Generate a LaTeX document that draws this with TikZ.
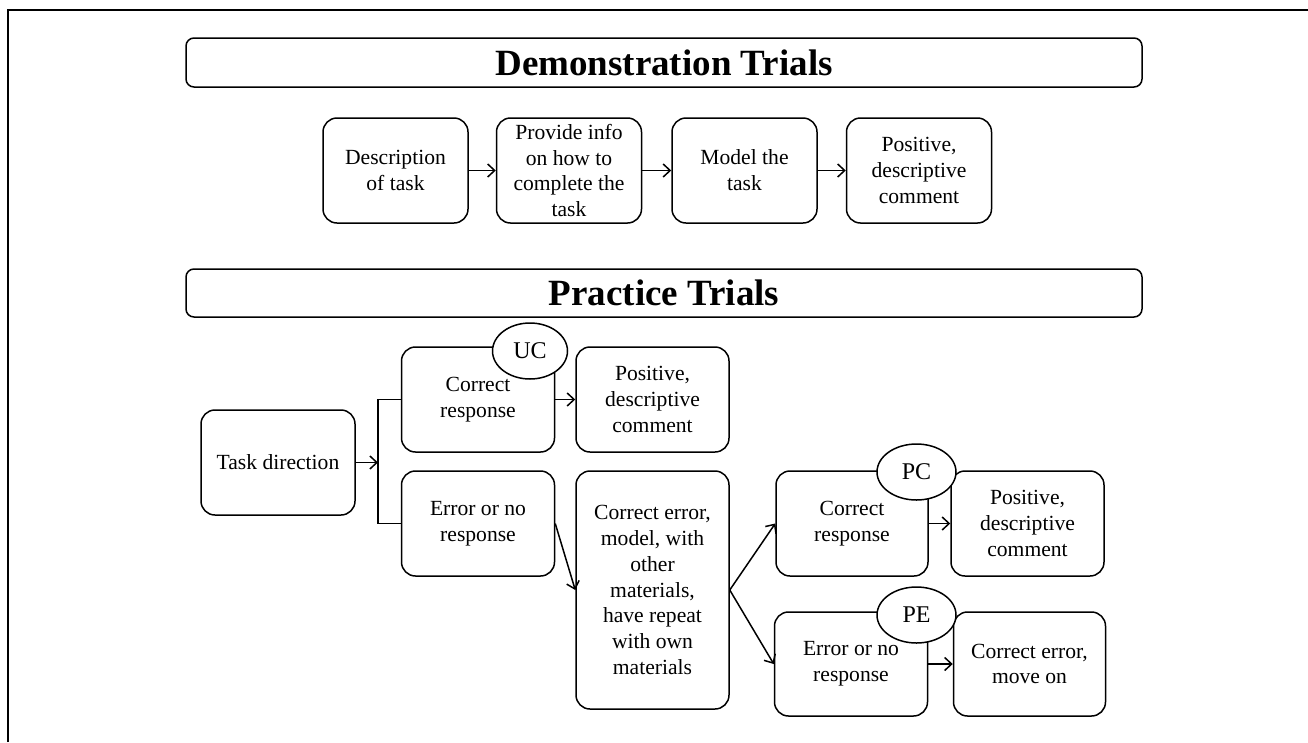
\documentclass[tikz,border=0pt]{standalone}
\usepackage{fontspec}
\setmainfont{Liberation Serif}
\usetikzlibrary{arrows.meta,shapes.geometric}
\tikzset{
  box/.style={draw, line width=1.5pt, rounded corners=14pt, align=center,
    inner sep=0pt, font=\fontsize{21.6}{25.8}\selectfont},
  titlebox/.style={draw, line width=1.5pt, rounded corners=8pt, inner sep=0pt,
    font=\fontsize{37}{40}\selectfont\bfseries},
  tag/.style={draw, ellipse, fill=white, line width=1.5pt, inner sep=0pt,
    font=\fontsize{24}{26}\selectfont},
  conn/.style={line width=1.5pt, -{Straight Barb[length=7pt,width=13pt,line width=1.5pt]}},
  plain/.style={line width=1.5pt}
}
\begin{document}
\begin{tikzpicture}[x=1pt,y=-1pt]
\useasboundingbox (0,0) rectangle (1308,742);
\fill[white] (0,0) rectangle (1308,742);
% frame
\coordinate (fa) at (8,742);
\coordinate (fb) at (8,10);
\coordinate (fc) at (1308,10);
\draw[plain] (fa) -- (fb) -- (fc);

% titles
\node[titlebox, minimum width=956pt, minimum height=49pt] (t1) at (664,62.5) {Demonstration Trials};
\node[titlebox, minimum width=956pt, minimum height=48pt] (t2) at (664,293) {Practice Trials};

% demonstration row
\node[box, minimum width=145pt, minimum height=105pt] (d1) at (395.5,170.5) {Description\\of task};
\node[box, minimum width=145pt, minimum height=105pt] (d2) at (569,170.5) {Provide info\\on how to\\complete the\\task};
\node[box, minimum width=145pt, minimum height=105pt] (d3) at (744.5,170.5) {Model the\\task};
\node[box, minimum width=145pt, minimum height=105pt] (d4) at (919,170.5) {Positive,\\descriptive\\comment};
\draw[conn] (d1) -- (d2);
\draw[conn] (d2) -- (d3);
\draw[conn] (d3) -- (d4);

% practice
\node[box, minimum width=154pt, minimum height=105pt] (task) at (278,462.5) {Task direction};
\node[box, minimum width=153pt, minimum height=105pt] (uc) at (478,399.5) {Correct\\response};
\node[box, minimum width=153pt, minimum height=105pt] (pos1) at (652.5,399.5) {Positive,\\descriptive\\comment};
\node[box, minimum width=153pt, minimum height=105pt] (err) at (478,523.5) {Error or no\\response};
\node[box, minimum width=153pt, minimum height=238pt] (big) at (652.5,590) {Correct error,\\model, with\\other\\materials,\\have repeat\\with own\\materials};
\node[box, minimum width=152pt, minimum height=105pt] (pc) at (852,523.5) {Correct\\response};
\node[box, minimum width=153pt, minimum height=105pt] (pos2) at (1027.5,523.5) {Positive,\\descriptive\\comment};
\node[box, minimum width=153pt, minimum height=104pt] (pe) at (851,664) {Error or no\\response};
\node[box, minimum width=152pt, minimum height=104pt] (mo) at (1029.5,664) {Correct error,\\move on};

\node[tag, minimum width=75pt, minimum height=56pt] (uct) at (530,351) {UC};
\node[tag, minimum width=79pt, minimum height=56pt] (pct) at (916.5,472) {PC};
\node[tag, minimum width=79pt, minimum height=56pt] (pet) at (916.5,615) {PE};

\coordinate (br) at (378,462.5);
\draw[conn] (task.east) -- (br);
\draw[plain] (uc.west) -| (br) |- (err.west);
\draw[conn] (uc.east) -- (pos1.west);
\draw[conn] (err.east) -- (big.west);
\draw[conn] (big.east) -- (pc.west);
\draw[conn] (big.east) -- (pe.west);
\draw[conn] (pc.east) -- (pos2.west);
\draw[conn] (pe.east) -- (mo.west);
\end{tikzpicture}
\end{document}
